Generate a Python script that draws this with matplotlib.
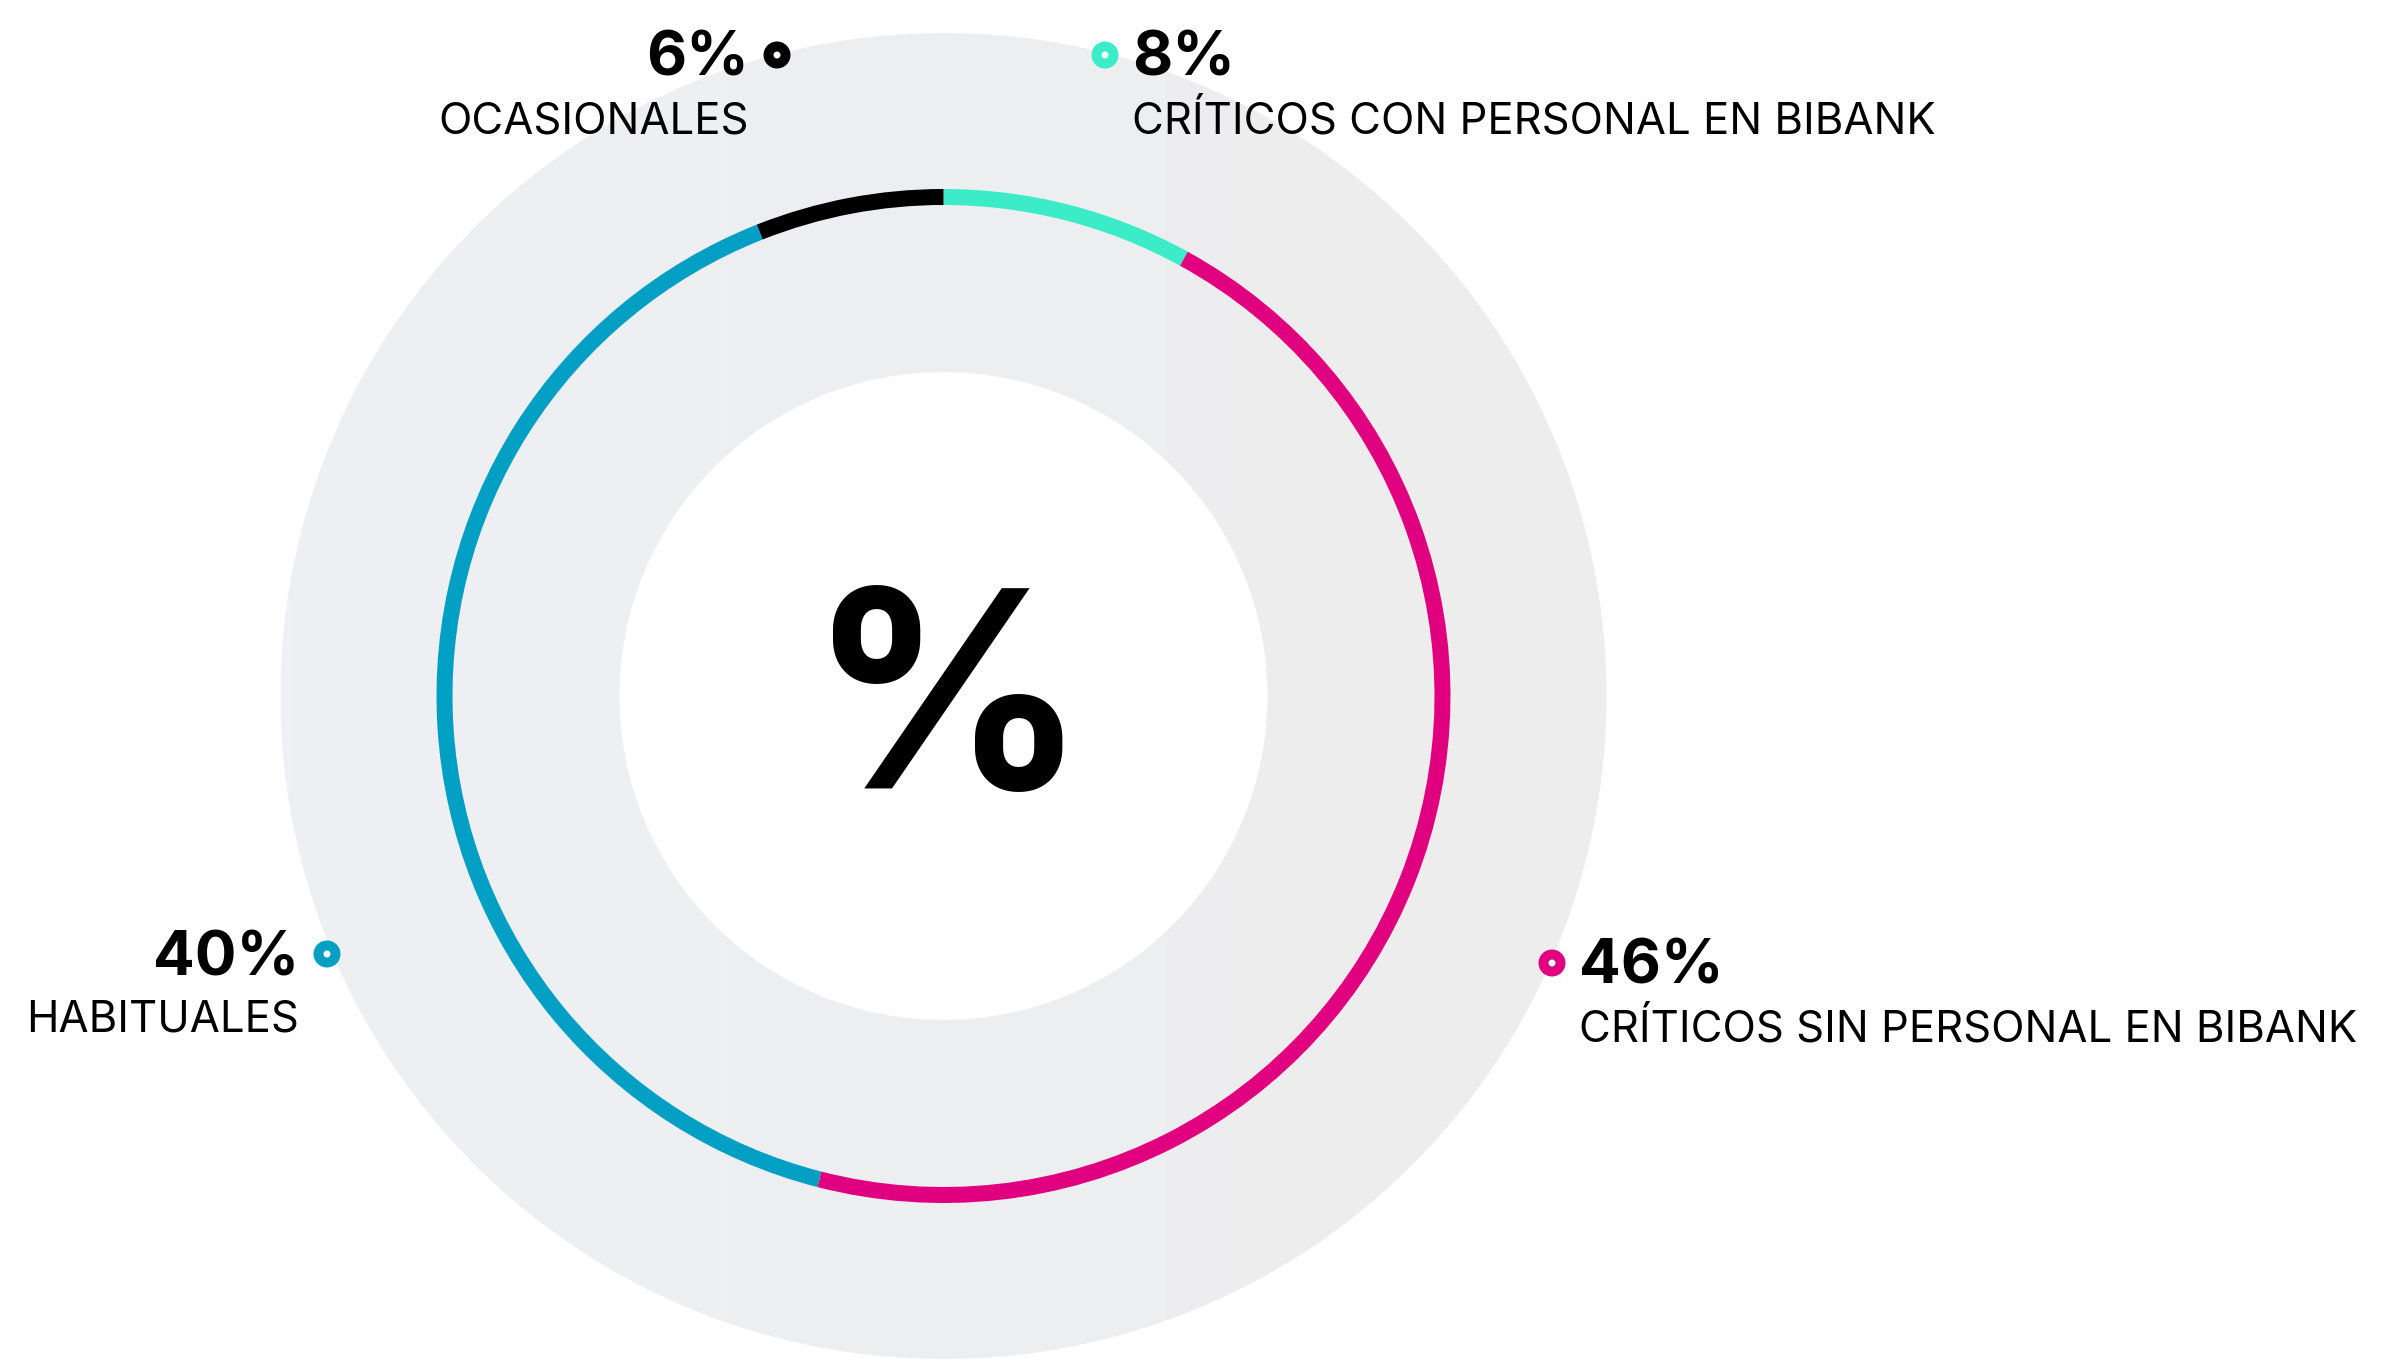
import numpy as np
import matplotlib
matplotlib.use("Agg")
import matplotlib.pyplot as plt
from matplotlib.patches import Circle
from matplotlib.colors import LinearSegmentedColormap

# segment data, clockwise from 12 o'clock
categories = ["CRÍTICOS CON PERSONAL EN BIBANK", "CRÍTICOS SIN PERSONAL EN BIBANK",
              "HABITUALES", "OCASIONALES"]
values = [8, 46, 40, 6]
colors = ["#3cebc8", "#e0007f", "#009fc3", "#000000"]

W, H = 2407, 1369
fig = plt.figure(figsize=(W / 100, H / 100), dpi=100)
ax = fig.add_axes([0, 0, 1, 1])

cx, cy = 943.5, H - 696
r_back = 663
r_hole = 324
r_ring = 499
ring_w = 16

# soft grey disc with a slight cool tint on the left
bg = Circle((cx, cy), r_back, facecolor="none", edgecolor="none")
ax.add_patch(bg)
cmap = LinearSegmentedColormap.from_list("bg", ["#edf0f4", "#ededed"])
grad = np.linspace(0, 1, 256).reshape(1, -1)
im = ax.imshow(grad, cmap=cmap, extent=[cx - r_back, cx + r_back, cy - r_back, cy + r_back],
               aspect="auto", zorder=1, interpolation="bilinear")
im.set_clip_path(bg)

ax.add_patch(Circle((cx, cy), r_hole, facecolor="white", edgecolor="none", zorder=2))

# thin donut ring
ax.pie(values, colors=colors, startangle=90, counterclock=False,
       radius=r_ring + ring_w / 2, center=(cx, cy), frame=True,
       wedgeprops=dict(width=ring_w, edgecolor="none", linewidth=0, zorder=3))
ax.set_xlim(0, W)
ax.set_ylim(0, H)
ax.set_aspect("equal")
ax.axis("off")

ax.text(948, H - 789, "%", ha="center", va="baseline", fontsize=198,
        fontfamily="Inter", fontweight="bold", color="black", zorder=4)

# label layout: dot centre, which side the text goes, pct / name baselines
label_pos = [
    (1105, 55, "left", 75, 133),
    (1552, 963, "left", 983, 1042),
    (327, 954, "right", 976, 1032),
    (777, 55, "right", 75, 133),
]

for name, val, col, (dx, dy, side, b1, b2) in zip(categories, values, colors, label_pos):
    ax.add_patch(Circle((dx, H - dy), 13.5, facecolor=col, edgecolor="none", zorder=5))
    ax.add_patch(Circle((dx, H - dy), 3.5, facecolor="white", edgecolor="none", zorder=6))
    if side == "left":
        tx = dx + 27
        ha = "left"
    else:
        tx = dx - 28
        ha = "right"
    ax.text(tx, H - b1, f"{val}%", ha=ha, va="baseline", fontsize=44.5,
            fontfamily="Inter", fontweight="bold", color="black", zorder=5)
    ax.text(tx, H - b2, name, ha=ha, va="baseline", fontsize=31.4,
            fontfamily="Inter", color="black", zorder=5)

fig.savefig("out.png", dpi=100, facecolor="white")
